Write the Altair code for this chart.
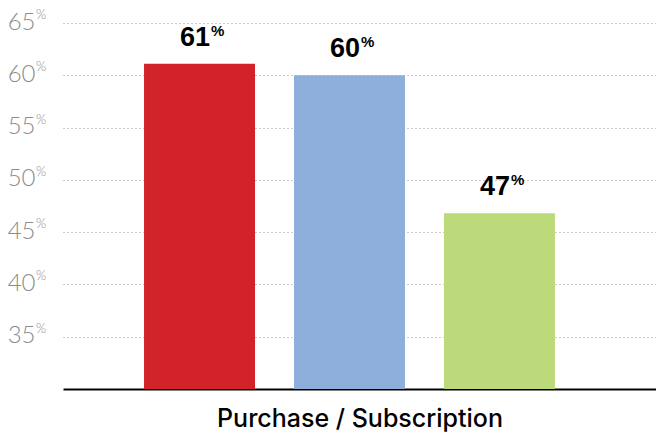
import altair as alt
import pandas as pd

# ---- data ----
categories = ["Series A", "Series B", "Series C"]
values = [61.1, 60.0, 46.8]
value_labels = ["61", "60", "47"]
colors = ["#D2232A", "#8EAEDB", "#BDDA7A"]
y_ticks = [35, 40, 45, 50, 55, 60, 65]
x_title = "Purchase / Subscription"

df = pd.DataFrame({
    "cat": categories,
    "value": values,
    "label": value_labels,
    "pct": ["%"] * len(categories),
})
ticks_df = pd.DataFrame({"tick": y_ticks, "pct": ["%"] * len(y_ticks)})

BOLD_FONT = "Liberation Sans"
TITLE_FONT = "Inter"
LIGHT_FONT = "Lato"
GREY = "#8c8c8c"

yscale = alt.Scale(domain=[30, 65], nice=False, zero=False, clamp=True)

x_enc = alt.X(
    "cat:N",
    sort=categories,
    scale=alt.Scale(paddingInner=0.26, paddingOuter=0.607, align=0.445),
    axis=alt.Axis(
        title=x_title, labels=False, ticks=False, tickSize=0,
        domainColor="#000000", domainWidth=2,
        titleFont=TITLE_FONT, titleFontSize=25, titleFontWeight=500,
        titleColor="#000000", titlePadding=17,
    ),
)

y_main = alt.Y(
    "value:Q",
    scale=yscale,
    axis=alt.Axis(
        values=y_ticks, title=None, grid=True, gridDash=[1, 3],
        gridColor="#999999", gridWidth=1, domain=False, ticks=False, tickSize=0,
        labelFont=LIGHT_FONT, labelFontWeight=300, labelFontSize=24,
        labelColor=GREY, labelPadding=28, labelAlign="right",
        labelBaseline="alphabetic", labelOffset=6, format="d",
    ),
)

bars = alt.Chart(df).mark_bar().encode(
    x=x_enc,
    y=y_main,
    color=alt.Color("cat:N", scale=alt.Scale(domain=categories, range=colors), legend=None),
)

nums = alt.Chart(df).mark_text(
    align="right", baseline="alphabetic", dx=10.5, dy=-18,
    font=BOLD_FONT, fontSize=27, fontWeight="bold", color="#000000",
).encode(x=x_enc, y=alt.Y("value:Q"), text="label:N")

pcts = alt.Chart(df).mark_text(
    align="left", baseline="alphabetic", dx=11.5, dy=-28,
    font=BOLD_FONT, fontSize=15, fontWeight="bold", color="#000000",
).encode(x=x_enc, y=alt.Y("value:Q"), text="pct:N")

# superscript "%" beside each y-axis tick label
axis_pcts = alt.Chart(ticks_df).mark_text(
    align="left", baseline="alphabetic", dy=-4,
    font=LIGHT_FONT, fontWeight=300, fontSize=13, color=GREY,
).encode(x=alt.value(-27), y=alt.Y("tick:Q"), text="pct:N")

chart = alt.layer(bars, nums, pcts, axis_pcts).properties(
    width=593,
    height=366,
    autosize=alt.AutoSizeParams(type="none"),
    padding={"left": 55, "top": 15, "right": 0, "bottom": 46},
).configure_view(stroke=None)

chart.save("out.html", embed_options={"renderer": "svg", "actions": False})
